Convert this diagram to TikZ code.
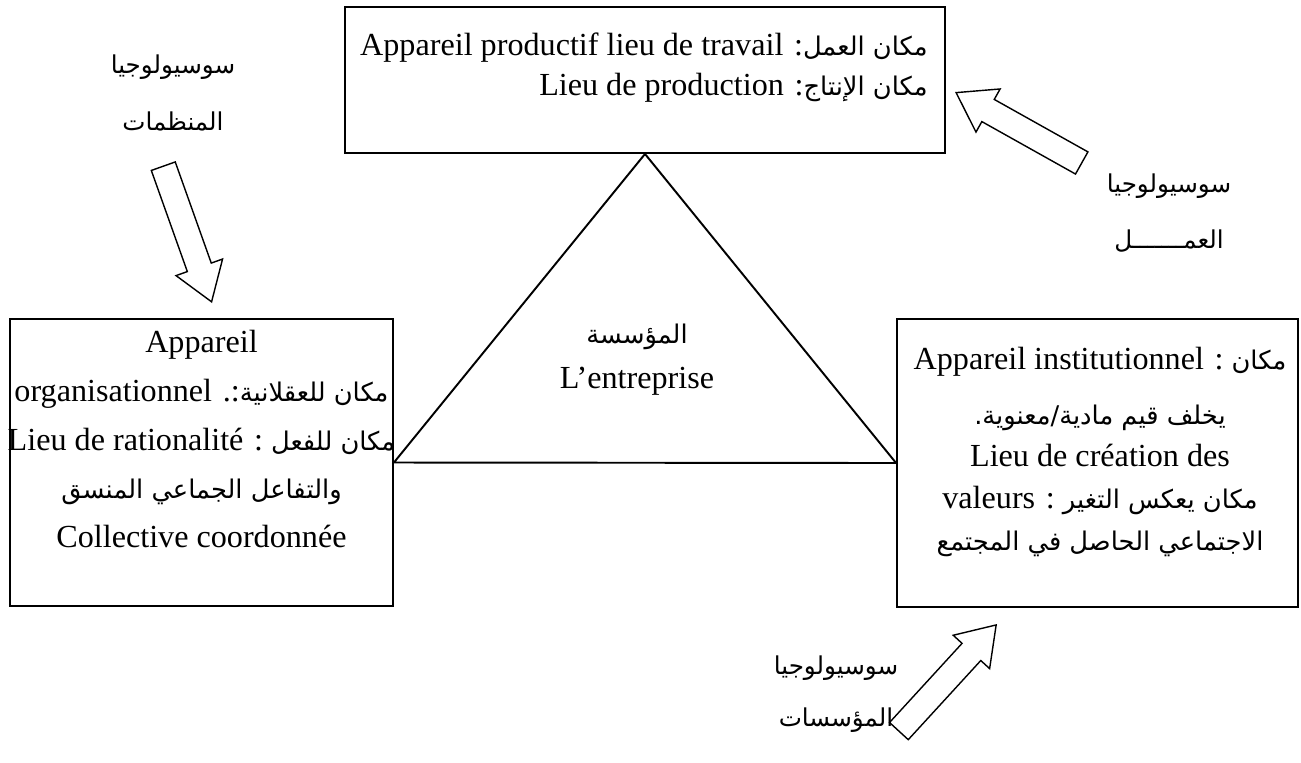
\documentclass[tikz,border=0pt]{standalone}
\usepackage{fontspec}
\setmainfont{Liberation Serif}
\newfontfamily\arabicfont[Script=Arabic,Scale=0.8]{DejaVu Sans}
\TeXXeTstate=1
\usetikzlibrary{shapes.arrows}

\newcommand{\artx}[1]{\beginR{\arabicfont #1}\endR}

\tikzset{
  box/.style={draw, line width=1.1pt, inner sep=0pt},
  txt/.style={align=center, inner sep=0pt},
  lab/.style={align=center, inner sep=0pt, font=\fontsize{17.5}{32}\selectfont},
  blockarrow/.style={single arrow, draw, line width=0.8pt, inner xsep=0pt, inner ysep=0.24cm,
    minimum height=2.88cm, minimum width=0.96cm, anchor=tip,
    single arrow head extend=0.24cm, single arrow tip angle=68},
}

\begin{document}
\begin{tikzpicture}[x=0.02cm, y=-0.02cm]
\useasboundingbox (0,0) rectangle (1301,762);

% boxes
\node[box, minimum width=12cm, minimum height=2.92cm] (boxProd) at (645,80) {};
\node[box, minimum width=7.66cm, minimum height=5.74cm] (boxOrg) at (201.5,462.5) {};
\node[box, minimum width=8.02cm, minimum height=5.76cm] (boxInst) at (1097.5,463) {};

% triangle
\draw[line width=1.1pt] (boxProd.south) -- (boxOrg.east) -- (boxInst.west) -- cycle;

% texts in the boxes
\node[txt, align=right, anchor=east, font=\fontsize{18.3}{22.8}\selectfont] (txtProd) at (928,68)
  {\beginR{\arabicfont مكان العمل}: \beginL Appareil productif lieu de travail\endL\endR\\
   \beginR{\arabicfont مكان الإنتاج}: \beginL Lieu de production\endL\endR};
\node[txt, font=\fontsize{18.3}{27.8}\selectfont] (txtOrg) at (201.5,439)
  {Appareil\\
   \beginR{\arabicfont مكان للعقلانية}.: organisationnel\endR\\
   \beginR{\arabicfont مكان للفعل} : \beginL Lieu de rationalité\endL\endR\\
   \artx{والتفاعل الجماعي المنسق}\\
   Collective coordonnée};
\node[txt, font=\fontsize{18.3}{23.9}\selectfont] (txtInst) at (1100,452)
  {\beginR{\arabicfont مكان} : \beginL Appareil institutionnel\endL\endR\\[0.26cm]
   \artx{يخلف قيم مادية/معنوية.}\\
   Lieu de création des\\
   \beginR{\arabicfont مكان يعكس التغير} : valeurs\endR\\
   \artx{الاجتماعي الحاصل في المجتمع}};
\node[txt, font=\fontsize{18.3}{25.6}\selectfont] (txtEnt) at (637,360)
  {\artx{المؤسسة}\\L’entreprise};

% labels
\node[lab] (labOrg) at (173,93) {\artx{سوسيولوجيا}\\\artx{المنظمات}};
\node[lab] (labTrav) at (1169,213) {\artx{سوسيولوجيا}\\\artx{العمـــــــل}};
\node[lab, font=\fontsize{17.5}{29.5}\selectfont] (labInst) at (836,694) {\artx{سوسيولوجيا}\\\artx{المؤسسات}};

% block arrows
\node[blockarrow, rotate=-70.4] (arrOrg) at (212,303) {};
\node[blockarrow, rotate=150.75] (arrTrav) at (955,92) {};
\node[blockarrow, rotate=47.5] (arrInst) at (997,624) {};
\end{tikzpicture}
\end{document}
